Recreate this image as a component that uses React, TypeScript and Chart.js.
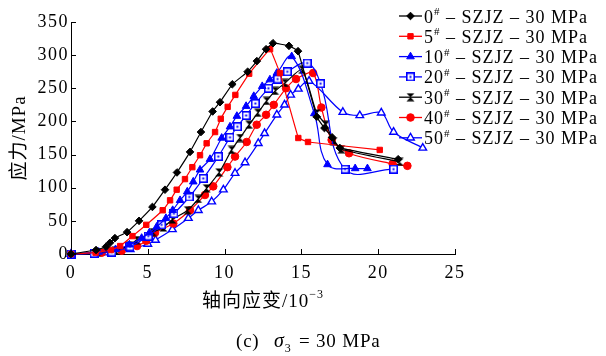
import React, { useEffect, useRef } from 'react';
import { Chart, registerables } from 'chart.js';
import { drawPoint } from 'chart.js/helpers';

Chart.register(...registerables);

// ---- data (strain in 10^-3, stress in MPa) ----
const seriesLabels = ['0', '5', '10', '20', '30', '40', '50'];

const strain0 = [0, 1.63, 2.28, 2.54, 2.86, 3.65, 4.43, 5.3, 6.12, 6.9, 7.75, 8.46, 9.22, 9.7, 10.5, 11.5, 12.1, 12.7, 13.15, 14.19, 14.78, 16.0, 16.5, 17.0, 17.5, 21.3];
const stress0 = [0, 6, 11, 17, 24, 33, 50, 71, 97, 123, 154, 184, 215, 229, 256, 275, 291, 309, 318, 314, 306, 207, 190, 176, 160, 143];

const strain5 = [0, 1.6, 2.6, 3.2, 4.0, 4.9, 5.97, 6.45, 6.88, 7.42, 7.9, 8.4, 8.83, 9.38, 9.75, 10.2, 10.7, 11.6, 12.96, 13.6, 14.8, 15.43, 20.1];
const stress5 = [0, 2, 6, 12, 27, 44, 66, 81, 97, 113, 131, 149, 167, 184, 204, 222, 240, 272, 309, 273, 175, 169, 157];

const strain10 = [0, 1.8, 2.9, 3.8, 4.6, 5.1, 5.58, 6.18, 6.62, 7.1, 7.57, 7.96, 8.4, 9.05, 9.81, 10.35, 10.8, 11.4, 11.9, 12.45, 12.95, 13.4, 14.37, 15.84, 16.7, 18.5, 19.3];
const stress10 = [0, 3, 7, 14, 24, 32, 41, 54, 66, 81, 94, 109, 127, 143, 175, 192, 208, 223, 238, 253, 263, 273, 298, 212, 135, 129, 129];

const strain20 = [0, 1.5, 2.65, 3.84, 5.03, 5.9, 6.7, 7.7, 8.61, 9.59, 10.35, 10.83, 11.4, 12.0, 12.85, 13.45, 14.08, 15.38, 16.25, 17.84, 21.0];
const stress20 = [0, 1, 3, 11, 27, 44, 61, 86, 114, 147, 176, 192, 209, 227, 250, 264, 275, 288, 257, 128, 128];

const strain30 = [0, 1.7, 2.9, 3.8, 4.28, 5.34, 6.01, 6.6, 7.6, 8.29, 8.83, 9.65, 10.46, 11.0, 11.6, 12.17, 12.74, 13.3, 13.93, 15.04, 16.0, 16.6, 17.1, 17.6, 21.4];
const stress30 = [0, 2, 5, 13, 21, 33, 40, 52, 66, 83, 99, 123, 157, 175, 195, 213, 231, 246, 258, 278, 212, 195, 170, 158, 139];

const strain40 = [0, 2.0, 3.3, 4.3, 4.9, 5.47, 6.66, 7.75, 8.72, 9.26, 10.18, 10.68, 11.44, 12.09, 12.7, 13.2, 14.0, 14.65, 15.76, 16.3, 16.97, 18.1, 20.94, 21.9];
const stress40 = [0, 2, 5, 12, 20, 32, 46, 66, 89, 102, 131, 147, 169, 195, 210, 225, 250, 264, 273, 221, 172, 152, 136, 133];

const strain50 = [0, 2.2, 3.85, 5.0, 5.5, 6.6, 7.64, 8.29, 9.16, 9.92, 10.68, 11.33, 12.19, 12.6, 13.4, 13.9, 14.3, 14.8, 15.5, 17.7, 18.8, 20.2, 21.0, 22.9];
const stress50 = [0, 2, 7, 15, 21, 37, 54, 66, 79, 97, 122, 138, 167, 182, 210, 225, 240, 249, 261, 214, 209, 213, 184, 160];

const xTicks = [0, 5, 10, 15, 20, 25];
const yTicks = [0, 50, 100, 150, 200, 250, 300, 350];

const SERIF = "'Liberation Serif', 'Times New Roman', serif";
const MIXED = "'Liberation Serif', 'Noto Sans CJK SC', serif";

function makeHourglass(): HTMLCanvasElement {
  const c = document.createElement('canvas');
  c.width = 9; c.height = 9;
  const g = c.getContext('2d')!;
  g.fillStyle = '#000';
  g.beginPath(); g.moveTo(0.5, 0.5); g.lineTo(8.5, 0.5); g.lineTo(4.5, 4.5); g.closePath(); g.fill();
  g.beginPath(); g.moveTo(0.5, 8.5); g.lineTo(8.5, 8.5); g.lineTo(4.5, 4.5); g.closePath(); g.fill();
  return c;
}

function makeHollowSquare(): HTMLCanvasElement {
  const c = document.createElement('canvas');
  c.width = 9; c.height = 9;
  const g = c.getContext('2d')!;
  g.fillStyle = '#fff';
  g.fillRect(0, 0, 9, 9);
  g.strokeStyle = '#0000ff';
  g.lineWidth = 1.6;
  g.strokeRect(0.8, 0.8, 7.4, 7.4);
  g.fillStyle = '#0000ff';
  g.fillRect(3.5, 3.5, 2, 2);
  return c;
}

const overlayPlugin = {
  id: 'overlay',
  beforeDraw(chart: any) {
    (chart.ctx as any).letterSpacing = '1.5px';
  },
  beforeDatasetsDraw(chart: any) {
    (chart.ctx as any).letterSpacing = '0px';
  },
  afterDraw(chart: any) {
    const { ctx, chartArea, scales } = chart;
    const xs = scales.x;
    const ys = scales.y;
    ctx.save();
    (ctx as any).letterSpacing = '0px';
    // inward ticks
    ctx.strokeStyle = '#000';
    ctx.lineWidth = 1;
    xTicks.forEach((v) => {
      const px = Math.round(xs.getPixelForValue(v)) + 0.5;
      ctx.beginPath();
      ctx.moveTo(px, chartArea.bottom);
      ctx.lineTo(px, chartArea.bottom - 5);
      ctx.stroke();
    });
    yTicks.forEach((v) => {
      const py = Math.round(ys.getPixelForValue(v)) + 0.5;
      ctx.beginPath();
      ctx.moveTo(chartArea.left, py);
      ctx.lineTo(chartArea.left + 5, py);
      ctx.stroke();
    });

    // legend
    const lx0 = 399, lx1 = 422, tx = 424;
    chart.data.datasets.forEach((ds: any, i: number) => {
      const y = 16 + i * 20.3;
      ctx.strokeStyle = ds.borderColor;
      ctx.lineWidth = 1.3;
      ctx.beginPath();
      ctx.moveTo(lx0, y);
      ctx.lineTo(lx1, y);
      ctx.stroke();
      ctx.fillStyle = ds.pointBackgroundColor;
      ctx.strokeStyle = ds.borderColor;
      ctx.lineWidth = ds.pointBorderWidth;
      drawPoint(ctx, { pointStyle: ds.pointStyle, radius: ds.pointRadius, rotation: 0, borderWidth: ds.pointBorderWidth }, (lx0 + lx1) / 2, y);
      ctx.fillStyle = '#000';
      ctx.textBaseline = 'alphabetic';
      ctx.textAlign = 'left';
      (ctx as any).letterSpacing = '1px';
      ctx.font = `18px ${SERIF}`;
      const num = seriesLabels[i];
      ctx.fillText(num, tx, y + 6.5);
      let w = ctx.measureText(num).width;
      ctx.font = `11px ${SERIF}`;
      ctx.fillText('#', tx + w, y - 1);
      w += ctx.measureText('#').width;
      ctx.font = `18px ${SERIF}`;
      ctx.fillText(' \u2013 SZJZ \u2013 30 MPa', tx + w, y + 6.5);
    });

    // y axis title
    ctx.fillStyle = '#000';
    ctx.save();
    ctx.translate(25, 138);
    ctx.rotate(-Math.PI / 2);
    ctx.textAlign = 'center';
    ctx.textBaseline = 'alphabetic';
    (ctx as any).letterSpacing = '1px';
    ctx.font = `19px ${MIXED}`;
    ctx.fillText('\u5e94\u529b/MPa', 0, 0);
    ctx.restore();

    // x axis title
    ctx.textAlign = 'left';
    ctx.textBaseline = 'alphabetic';
    (ctx as any).letterSpacing = '1px';
    ctx.font = `19px ${MIXED}`;
    const xt = '\u8f74\u5411\u5e94\u53d8/10';
    const xtw = ctx.measureText(xt).width;
    ctx.font = `12px ${SERIF}`;
    const supw = ctx.measureText('\u22123').width;
    const startX = 263 - (xtw + supw) / 2;
    ctx.font = `19px ${MIXED}`;
    ctx.fillText(xt, startX, 307);
    ctx.font = `12px ${SERIF}`;
    ctx.fillText('\u22123', startX + xtw, 298);

    // caption
    (ctx as any).letterSpacing = '0.8px';
    ctx.font = `19px ${SERIF}`;
    ctx.fillText('(c)', 236, 347);
    ctx.font = `italic 20px ${SERIF}`;
    ctx.fillText('\u03c3', 274, 347);
    const sw = ctx.measureText('\u03c3').width;
    ctx.font = `12px ${SERIF}`;
    ctx.fillText('3', 274 + sw, 352);
    ctx.font = `19px ${SERIF}`;
    ctx.fillText('= 30 MPa', 299, 347);
    ctx.restore();
  },
};

export default function App() {
  const ref = useRef<HTMLCanvasElement | null>(null);

  useEffect(() => {
    document.body.style.margin = '0';
    const canvas = ref.current;
    if (!canvas) return;
    const hourglass = makeHourglass();
    const hollowSq = makeHollowSquare();

    const mk = (xs: number[], ys: number[]) => xs.map((x, i) => ({ x, y: ys[i] }));
    const base = (label: string, color: string, data: any, style: any, radius: number, fill: string, bw: number, tension: number) => ({
      label,
      data,
      borderColor: color,
      backgroundColor: color,
      borderWidth: 1.2,
      pointStyle: style,
      pointRadius: radius,
      pointHoverRadius: radius,
      pointBackgroundColor: fill,
      pointBorderColor: color,
      pointBorderWidth: bw,
      tension,
      clip: 8,
      fill: false,
    });

    const datasets = [
      base('0', '#000000', mk(strain0, stress0), 'rectRot', 3.8, '#000000', 1, 0.1),
      base('5', '#ff0000', mk(strain5, stress5), 'rect', 3.8, '#ff0000', 1, 0.05),
      base('10', '#0000ff', mk(strain10, stress10), 'triangle', 4.4, '#0000ff', 1, 0.4),
      base('20', '#0000ff', mk(strain20, stress20), hollowSq, 4, '#ffffff', 1, 0.4),
      base('30', '#000000', mk(strain30, stress30), hourglass, 4, '#000000', 1, 0.2),
      base('40', '#ff0000', mk(strain40, stress40), 'circle', 3.8, '#ff0000', 1, 0.3),
      base('50', '#0000ff', mk(strain50, stress50), 'triangle', 4.4, '#ffffff', 1.4, 0.35),
    ];

    const chart = new Chart(canvas, {
      type: 'line',
      data: { datasets },
      options: {
        animation: false,
        responsive: false,
        devicePixelRatio: 1,
        events: [],
        layout: { padding: { left: 0, right: 151, top: 22, bottom: 0 } },
        plugins: { legend: { display: false }, tooltip: { enabled: false }, title: { display: false } },
        scales: {
          x: {
            type: 'linear',
            min: 0,
            max: 25,
            afterFit: (s: any) => { s.height = 102; },
            afterBuildTicks: (s: any) => { s.ticks = xTicks.map((v) => ({ value: v })); },
            ticks: { color: '#000', font: { family: SERIF, size: 18 }, padding: 8, maxRotation: 0, autoSkip: false },
            grid: { display: false, drawTicks: false },
            border: { display: true, color: '#000', width: 1 },
          },
          y: {
            type: 'linear',
            min: 0,
            max: 350,
            afterFit: (s: any) => { s.width = 71; },
            afterBuildTicks: (s: any) => { s.ticks = yTicks.map((v) => ({ value: v })); },
            ticks: { color: '#000', font: { family: SERIF, size: 18 }, padding: 2, autoSkip: false },
            grid: { display: false, drawTicks: false },
            border: { display: true, color: '#000', width: 1 },
          },
        },
      },
      plugins: [overlayPlugin],
    });
    return () => chart.destroy();
  }, []);

  return (
    <div style={{ width: 606, height: 356, position: 'relative', background: '#fff' }}>
      <canvas ref={ref} width={606} height={356} style={{ display: 'block' }} />
    </div>
  );
}
